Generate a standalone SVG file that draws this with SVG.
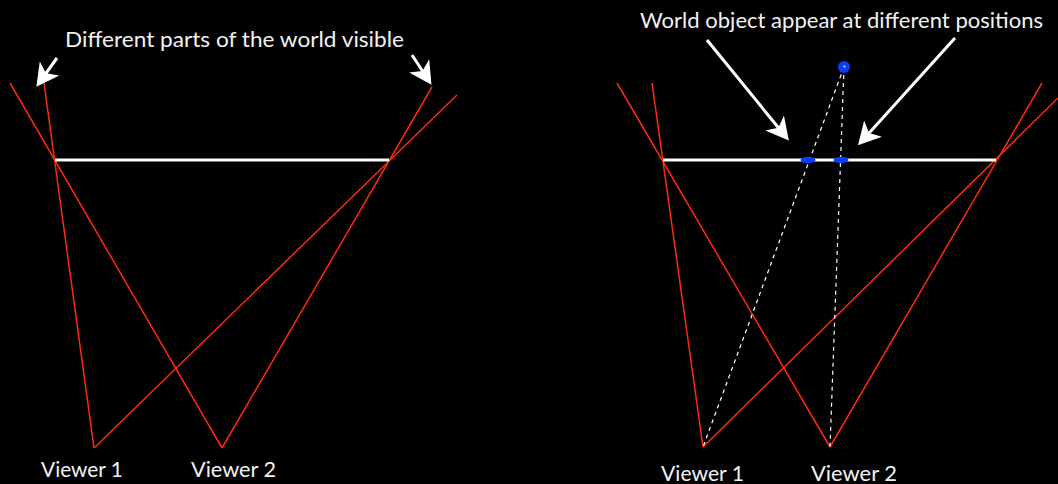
<svg xmlns="http://www.w3.org/2000/svg" width="1058" height="484" viewBox="0 0 1058 484">
<style>
.t{font-family:Lato,"Open Sans","Liberation Sans",sans-serif;font-size:22px;fill:#f2f2f2}
.r{stroke:#ff2a0a;stroke-width:1.5;fill:none}
.w{stroke:#ffffff;stroke-width:3;fill:none}
.a{stroke:#ffffff;stroke-width:3;fill:none;marker-end:url(#ah)}
.d{stroke:#ffffff;stroke-width:1.2;stroke-dasharray:4,4;fill:none}
.b{fill:#0a3cff}
</style>
<defs>
<marker id="ah" markerWidth="9" markerHeight="9" refX="6" refY="4.5" orient="auto" markerUnits="strokeWidth">
<path d="M0,0.5 L7.5,4.5 L0,8.5 L2,4.5 Z" fill="#ffffff"/>
</marker>
</defs>
<rect x="0" y="0" width="1058" height="484" fill="#000"/>
<g id="connectors">
<line class="r" x1="94" y1="448" x2="44" y2="83"/>
<line class="r" x1="94" y1="448" x2="457" y2="95"/>
<line class="r" x1="222" y1="448" x2="10" y2="83"/>
<line class="r" x1="222" y1="448" x2="432" y2="87"/>
<line class="w" x1="55" y1="160" x2="389" y2="160"/>
<line class="a" x1="57" y1="58" x2="39" y2="83"/>
<line class="a" x1="412" y1="55" x2="429" y2="81"/>
<line class="r" x1="703" y1="447" x2="652" y2="83"/>
<line class="r" x1="703" y1="447" x2="1058" y2="98"/>
<line class="r" x1="830" y1="447" x2="617" y2="83"/>
<line class="r" x1="830" y1="447" x2="1042" y2="83"/>
<line class="w" x1="663" y1="160" x2="996" y2="160"/>
<line class="d" x1="844" y1="67" x2="703" y2="447"/>
<line class="d" x1="844" y1="67" x2="830" y2="447"/>
<line class="a" x1="707" y1="40" x2="786" y2="137"/>
<line class="a" x1="955" y1="38" x2="861" y2="142"/>
</g>
<g id="world-object"><circle class="b" cx="844" cy="67" r="6"/><circle cx="844.5" cy="66.5" r="1" fill="#fff"/></g>
<g id="image-point-1"><ellipse class="b" cx="808" cy="160" rx="7.5" ry="3.2"/></g>
<g id="image-point-2"><ellipse class="b" cx="841" cy="160" rx="7.5" ry="3.2"/></g>
<g id="label-left"><text class="t" x="65" y="47" textLength="339" lengthAdjust="spacingAndGlyphs">Different parts of  the world visible</text></g>
<g id="label-right"><text class="t" x="640" y="28" textLength="403" lengthAdjust="spacingAndGlyphs">World object appear at different positions</text></g>
<g id="viewer1-left"><text class="t" x="41" y="477" textLength="82" lengthAdjust="spacingAndGlyphs">Viewer 1</text></g>
<g id="viewer2-left"><text class="t" x="191" y="477" textLength="85" lengthAdjust="spacingAndGlyphs">Viewer 2</text></g>
<g id="viewer1-right"><text class="t" x="661" y="481" textLength="83" lengthAdjust="spacingAndGlyphs">Viewer 1</text></g>
<g id="viewer2-right"><text class="t" x="811" y="481" textLength="86" lengthAdjust="spacingAndGlyphs">Viewer 2</text></g>
</svg>
